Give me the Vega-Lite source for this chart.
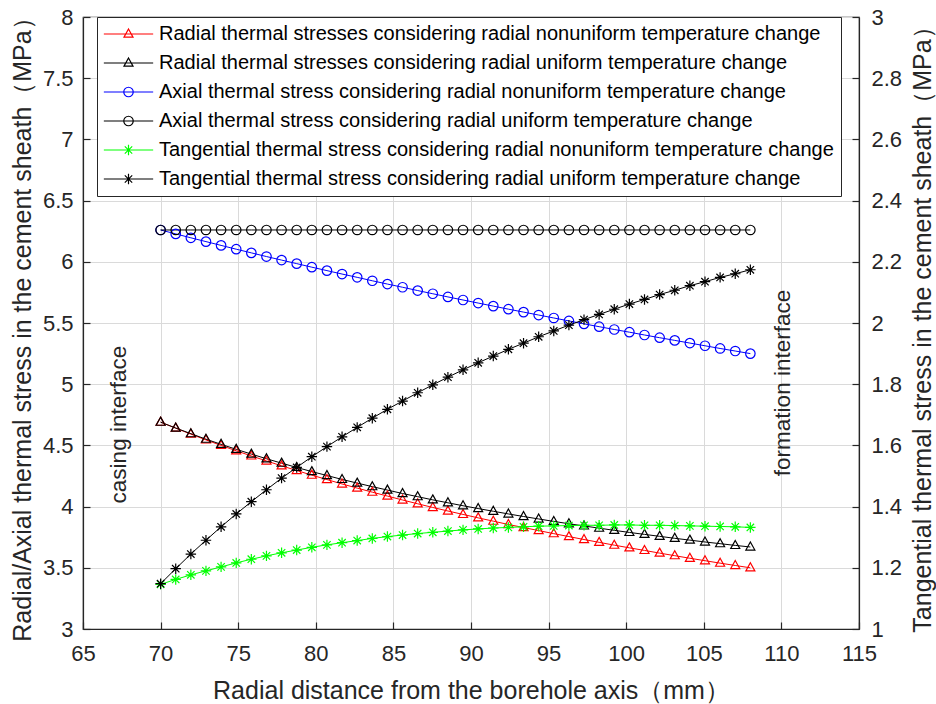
{
  "$schema": "https://vega.github.io/schema/vega-lite/v6.json",
  "width": 776,
  "height": 612,
  "autosize": "none",
  "padding": {"left": 83, "top": 17, "right": 77, "bottom": 75},
  "background": "white",
  "config": {
    "font": "Liberation Sans",
    "view": {"stroke": "#262626", "strokeWidth": 1.2},
    "axis": {
      "labelFont": "Liberation Sans", "labelFontSize": 22, "labelColor": "#262626",
      "titleFont": "Liberation Sans", "titleFontSize": 25, "titleFontWeight": "normal", "titleColor": "#262626",
      "titleBaseline": "middle",
      "domainColor": "#262626", "domainWidth": 1.2, "tickColor": "#262626", "tickWidth": 1.2, "tickSize": -7,
      "gridColor": "#dadada", "gridWidth": 1, "labelFlush": false, "labelOverlap": false
    }
  },
  "data": {"name": "main"},
  "datasets": {
    "main": [
      {"r": 70, "a": 4.690, "b": 4.690, "c": 6.260, "d": 6.26, "e": 1.146, "f": 1.148},
      {"r": 70.974, "a": 4.641, "b": 4.642, "c": 6.228, "d": 6.26, "e": 1.162, "f": 1.197},
      {"r": 71.949, "a": 4.592, "b": 4.596, "c": 6.196, "d": 6.26, "e": 1.177, "f": 1.245},
      {"r": 72.923, "a": 4.545, "b": 4.551, "c": 6.165, "d": 6.26, "e": 1.190, "f": 1.290},
      {"r": 73.897, "a": 4.500, "b": 4.509, "c": 6.134, "d": 6.26, "e": 1.203, "f": 1.334},
      {"r": 74.872, "a": 4.456, "b": 4.468, "c": 6.103, "d": 6.26, "e": 1.216, "f": 1.376},
      {"r": 75.846, "a": 4.414, "b": 4.429, "c": 6.073, "d": 6.26, "e": 1.228, "f": 1.416},
      {"r": 76.821, "a": 4.373, "b": 4.391, "c": 6.043, "d": 6.26, "e": 1.239, "f": 1.455},
      {"r": 77.795, "a": 4.333, "b": 4.355, "c": 6.014, "d": 6.26, "e": 1.249, "f": 1.493},
      {"r": 78.769, "a": 4.295, "b": 4.320, "c": 5.985, "d": 6.26, "e": 1.258, "f": 1.528},
      {"r": 79.744, "a": 4.257, "b": 4.286, "c": 5.956, "d": 6.26, "e": 1.267, "f": 1.563},
      {"r": 80.718, "a": 4.221, "b": 4.254, "c": 5.928, "d": 6.26, "e": 1.275, "f": 1.596},
      {"r": 81.692, "a": 4.185, "b": 4.222, "c": 5.900, "d": 6.26, "e": 1.282, "f": 1.628},
      {"r": 82.667, "a": 4.151, "b": 4.192, "c": 5.873, "d": 6.26, "e": 1.289, "f": 1.659},
      {"r": 83.641, "a": 4.118, "b": 4.163, "c": 5.845, "d": 6.26, "e": 1.296, "f": 1.689},
      {"r": 84.615, "a": 4.086, "b": 4.135, "c": 5.818, "d": 6.26, "e": 1.302, "f": 1.718},
      {"r": 85.590, "a": 4.054, "b": 4.107, "c": 5.792, "d": 6.26, "e": 1.307, "f": 1.745},
      {"r": 86.564, "a": 4.023, "b": 4.081, "c": 5.765, "d": 6.26, "e": 1.312, "f": 1.772},
      {"r": 87.538, "a": 3.993, "b": 4.055, "c": 5.739, "d": 6.26, "e": 1.316, "f": 1.798},
      {"r": 88.513, "a": 3.964, "b": 4.031, "c": 5.713, "d": 6.26, "e": 1.320, "f": 1.823},
      {"r": 89.487, "a": 3.936, "b": 4.007, "c": 5.688, "d": 6.26, "e": 1.324, "f": 1.847},
      {"r": 90.462, "a": 3.908, "b": 3.984, "c": 5.663, "d": 6.26, "e": 1.327, "f": 1.870},
      {"r": 91.436, "a": 3.881, "b": 3.962, "c": 5.638, "d": 6.26, "e": 1.330, "f": 1.892},
      {"r": 92.410, "a": 3.854, "b": 3.940, "c": 5.613, "d": 6.26, "e": 1.332, "f": 1.914},
      {"r": 93.385, "a": 3.829, "b": 3.919, "c": 5.589, "d": 6.26, "e": 1.334, "f": 1.934},
      {"r": 94.359, "a": 3.804, "b": 3.899, "c": 5.565, "d": 6.26, "e": 1.336, "f": 1.955},
      {"r": 95.333, "a": 3.779, "b": 3.879, "c": 5.541, "d": 6.26, "e": 1.337, "f": 1.974},
      {"r": 96.308, "a": 3.755, "b": 3.860, "c": 5.517, "d": 6.26, "e": 1.338, "f": 1.993},
      {"r": 97.282, "a": 3.731, "b": 3.842, "c": 5.493, "d": 6.26, "e": 1.339, "f": 2.011},
      {"r": 98.256, "a": 3.708, "b": 3.824, "c": 5.470, "d": 6.26, "e": 1.339, "f": 2.028},
      {"r": 99.231, "a": 3.685, "b": 3.806, "c": 5.447, "d": 6.26, "e": 1.340, "f": 2.045},
      {"r": 100.205, "a": 3.663, "b": 3.789, "c": 5.425, "d": 6.26, "e": 1.340, "f": 2.062},
      {"r": 101.179, "a": 3.642, "b": 3.773, "c": 5.402, "d": 6.26, "e": 1.339, "f": 2.077},
      {"r": 102.154, "a": 3.620, "b": 3.757, "c": 5.380, "d": 6.26, "e": 1.339, "f": 2.093},
      {"r": 103.128, "a": 3.599, "b": 3.741, "c": 5.358, "d": 6.26, "e": 1.338, "f": 2.107},
      {"r": 104.103, "a": 3.578, "b": 3.726, "c": 5.336, "d": 6.26, "e": 1.337, "f": 2.122},
      {"r": 105.077, "a": 3.558, "b": 3.711, "c": 5.314, "d": 6.26, "e": 1.336, "f": 2.135},
      {"r": 106.051, "a": 3.538, "b": 3.697, "c": 5.292, "d": 6.26, "e": 1.335, "f": 2.149},
      {"r": 107.026, "a": 3.519, "b": 3.683, "c": 5.271, "d": 6.26, "e": 1.334, "f": 2.161},
      {"r": 108, "a": 3.500, "b": 3.670, "c": 5.250, "d": 6.26, "e": 1.332, "f": 2.174}
    ]
  },
  "encoding": {
    "x": {
      "field": "r", "type": "quantitative",
      "scale": {"domain": [65, 115], "nice": false, "zero": false},
      "axis": {
        "values": [65, 70, 75, 80, 85, 90, 95, 100, 105, 110, 115],
        "title": "Radial distance from the borehole axis（mm）",
        "grid": true, "labelPadding": 21, "titleX": 388, "titleY": 61.5
      }
    }
  },
  "layer": [
    {
      "encoding": {
        "y": {
          "field": "v", "type": "quantitative",
          "scale": {"domain": [3, 8], "nice": false, "zero": false},
          "axis": {
            "orient": "left",
            "values": [3, 3.5, 4, 4.5, 5, 5.5, 6, 6.5, 7, 7.5, 8],
            "format": "~g",
            "title": "Radial/Axial thermal stress in the cement sheath（MPa）",
            "grid": true, "labelPadding": 17, "titleX": -60.5, "titleY": 306, "titleAngle": 270
          }
        }
      },
      "layer": [
        {
          "transform": [{"fold": ["a", "b", "c", "d"], "as": ["s", "v"]}],
          "mark": {"type": "line", "strokeWidth": 1},
          "encoding": {
            "color": {
              "field": "s", "type": "nominal",
              "scale": {"domain": ["a", "b", "c", "d", "e", "f"], "range": ["#ff0000", "#000000", "#0000ff", "#000000", "#00ff00", "#000000"]},
              "legend": {
                "orient": "none", "legendX": 14, "legendY": 0,
                "title": null, "padding": 7,
                "strokeColor": "#262626", "fillColor": "white",
                "labelFont": "Liberation Sans", "labelFontSize": 20, "labelColor": "#000000", "labelLimit": 0,
                "symbolSize": 90, "symbolStrokeWidth": 1.2, "symbolOffset": 14.5, "labelOffset": 20.5,
                "rowPadding": 9,
                "labelExpr": "datum.value=='a'?'Radial thermal stresses considering radial nonuniform temperature change':datum.value=='b'?'Radial thermal stresses considering radial uniform temperature change':datum.value=='c'?'Axial thermal stress considering radial nonuniform temperature change':datum.value=='d'?'Axial thermal stress considering radial uniform temperature change':datum.value=='e'?'Tangential thermal stress considering radial nonuniform temperature change':'Tangential thermal stress considering radial uniform temperature change'",
                "encode": {
                  "symbols": {
                    "update": {
                      "shape": {"signal": "(datum.value=='a'||datum.value=='b')?'M-5.2,0L5.2,0M0,-1.05L0.95,0.65L-0.95,0.65Z':(datum.value=='c'||datum.value=='d')?'M-5.2,0L5.2,0M1,0A1,1,0,1,1,-1,0A1,1,0,1,1,1,0Z':'M-5.2,0L5.2,0M0,-1.1L0,1.1M-0.78,-0.78L0.78,0.78M-0.78,0.78L0.78,-0.78'"},
                      "stroke": {"scale": "color", "field": "value"},
                      "fill": {"value": "transparent"},
                      "strokeWidth": {"value": 1.2},
                      "opacity": {"value": 1}
                    }
                  }
                }
              }
            }
          }
        },
        {
          "transform": [{"fold": ["a", "b", "c", "d"], "as": ["s", "v"]}, {"filter": "datum.s == 'a' || datum.s == 'b'"}],
          "mark": {"type": "point", "shape": "M0,-1.05L0.95,0.65L-0.95,0.65Z", "filled": false, "size": 90, "strokeWidth": 1.2, "opacity": 1},
          "encoding": {"color": {"field": "s", "type": "nominal"}}
        },
        {
          "transform": [{"fold": ["a", "b", "c", "d"], "as": ["s", "v"]}, {"filter": "datum.s == 'c' || datum.s == 'd'"}],
          "mark": {"type": "point", "shape": "M1,0A1,1,0,1,1,-1,0A1,1,0,1,1,1,0Z", "filled": false, "size": 90, "strokeWidth": 1.2, "opacity": 1},
          "encoding": {"color": {"field": "s", "type": "nominal"}}
        },
        {
          "data": {"values": [{"r": 70}, {"r": 108}]},
          "mark": {"type": "rule", "color": "#262626", "strokeWidth": 1, "strokeDash": [12, 7]},
          "encoding": {"y": {"datum": 3}, "y2": {"datum": 6.26}}
        },
        {
          "data": {"values": [{"r": 67.3, "v": 4.67, "t": "casing interface"}, {"r": 110.1, "v": 5.01, "t": "formation interface"}]},
          "mark": {"type": "text", "angle": 270, "font": "Liberation Sans", "fontSize": 22.5, "color": "#262626", "align": "center", "baseline": "middle"},
          "encoding": {"text": {"field": "t"}}
        }
      ]
    },
    {
      "encoding": {
        "y": {
          "field": "v", "type": "quantitative",
          "scale": {"domain": [1, 3], "nice": false, "zero": false},
          "axis": {
            "orient": "right",
            "values": [1, 1.2, 1.4, 1.6, 1.8, 2, 2.2, 2.4, 2.6, 2.8, 3],
            "format": "~g",
            "title": "Tangential thermal stress in the cement sheath（MPa）",
            "titleAngle": 270, "titleX": 63.5, "titleY": 306,
            "grid": false, "labelPadding": 19
          }
        }
      },
      "layer": [
        {
          "transform": [{"fold": ["e", "f"], "as": ["s", "v"]}],
          "mark": {"type": "line", "strokeWidth": 1},
          "encoding": {"color": {"field": "s", "type": "nominal"}}
        },
        {
          "transform": [{"fold": ["e", "f"], "as": ["s", "v"]}],
          "mark": {"type": "point", "shape": "M0,-1.1L0,1.1M-1.1,0L1.1,0M-0.78,-0.78L0.78,0.78M-0.78,0.78L0.78,-0.78", "filled": false, "size": 90, "strokeWidth": 1.2, "opacity": 1},
          "encoding": {"color": {"field": "s", "type": "nominal"}}
        }
      ]
    }
  ],
  "resolve": {"scale": {"y": "independent"}}
}
